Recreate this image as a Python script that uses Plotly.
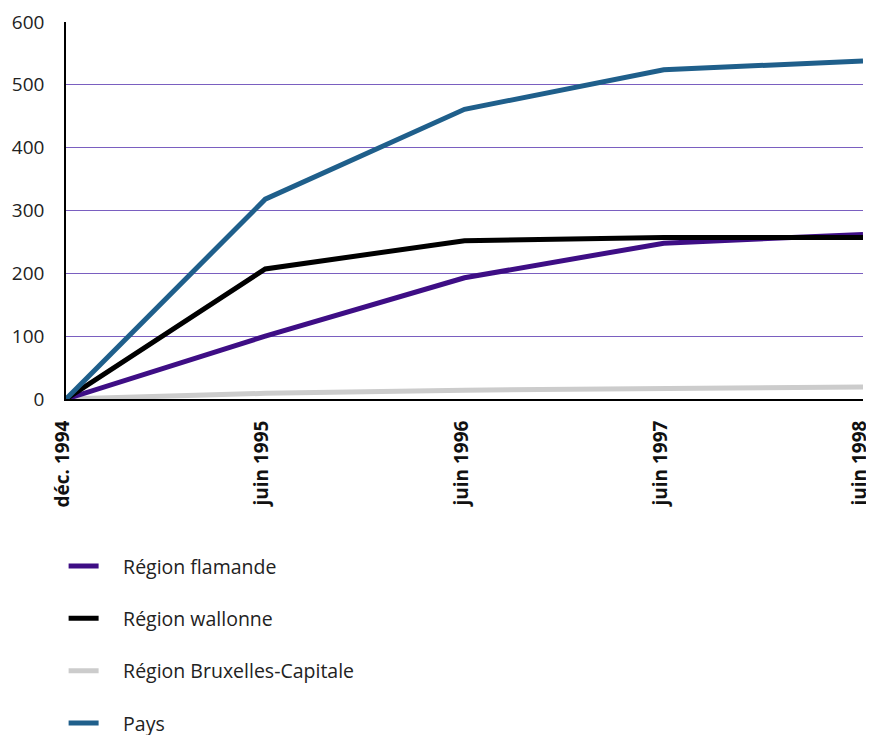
import plotly.graph_objects as go

categories = ["déc. 1994", "juin 1995", "juin 1996", "juin 1997", "juin 1998"]
flamande = [0, 100, 193, 248, 262]
wallonne = [0, 207, 252, 257, 257]
bruxelles = [0, 9, 14, 17, 19]
pays = [0, 318, 461, 524, 538]

series = [
    ("Région flamande", flamande, "#3e0e85"),
    ("Région wallonne", wallonne, "#000000"),
    ("Région Bruxelles-Capitale", bruxelles, "#cccccc"),
    ("Pays", pays, "#1f5f8b"),
]

fig = go.Figure()
order = [2, 0, 1, 3]
for i in order:
    name, vals, col = series[i]
    fig.add_trace(go.Scatter(
        x=categories, y=vals, name="\u2003" + name, mode="lines",
        line=dict(color=col, width=5), legendgroup=name, legendrank=i + 1,
    ))

font_family = "Open Sans, Noto Sans, sans-serif"
fig.update_layout(
    width=866, height=727,
    margin=dict(l=58, r=11, t=14, b=336, autoexpand=False),
    plot_bgcolor="white", paper_bgcolor="white",
    font=dict(family=font_family, size=19.5, color="#222222"),
    showlegend=True,
    legend=dict(
        orientation="v", x=-0.003, xanchor="left", y=-0.392, yanchor="top",
        font=dict(size=19.5, color="#222222"), tracegroupgap=24,
        itemwidth=30, bgcolor="rgba(0,0,0,0)",
    ),
    xaxis=dict(
        type="category", range=[0, 4], showgrid=False,
        tickangle=-90, tickfont=dict(size=19, color="#111111", family=font_family),
        showline=True, linecolor="black", linewidth=2, ticks="",
        ticklabelstandoff=12, ticklabelshift=-3,
    ),
    yaxis=dict(
        range=[0, 600], dtick=100, showgrid=True, gridcolor="#7a5fc0", gridwidth=1,
        showline=True, linecolor="black", linewidth=1.5, zeroline=False,
        tickfont=dict(size=19, color="#222222"), ticks="", ticklabelstandoff=16,
    ),
)
fig.update_xaxes(ticktext=[f"<b>{c}</b>" for c in categories], tickvals=categories)

fig.write_html("out.html")
